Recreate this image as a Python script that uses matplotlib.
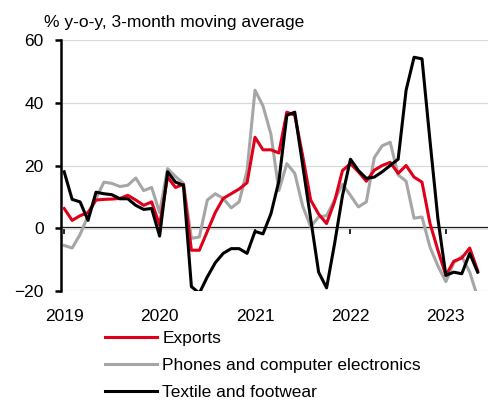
import matplotlib.pyplot as plt
import numpy as np

plt.rcParams['font.family'] = ['Liberation Sans', 'DejaVu Sans']

# monthly data, Jan 2019 .. May 2023
exports = [6.3, 2.5, 4, 5, 9, 9.2, 9.3, 9.5, 10.5, 9, 7.3, 8.4,
           1, 16.3, 13, 14, -7, -7, -1, 5, 9.5, 11, 12.5, 14.5,
           29, 25, 25, 24, 37, 36, 23, 9, 4.5, 1.5, 8.5, 18.4,
           20.6, 18, 15, 18.5, 20, 21, 17.5, 20, 16.3, 14.7, 1.6, -7,
           -15, -10.5, -9.5, -6.3, -13.5]
phones = [-5.5, -6.3, -2, 4, 9.5, 14.7, 14.3, 13.3, 13.7, 16, 12, 13,
          5, 19, 16.5, 14.3, -3.2, -2.8, 9, 11, 9.5, 6.5, 8.4, 18.4,
          44, 39, 30, 12, 20.6, 17.5, 7, 0.5, 3.6, 4, 9, 14,
          10.5, 6.8, 8.4, 22.5, 26.3, 27.4, 17, 15, 3.2, 3.6, -6, -12,
          -17, -11, -9, -14, -22]
textile = [18, 9.2, 8.4, 2.5, 11.5, 11, 10.7, 9.4, 9.4, 7.3, 6, 6.3,
           -2.5, 18, 14.7, 13.7, -18.6, -20.7, -15.5, -11, -8, -6.5, -6.5, -8,
           -1, -1.8, 4.6, 15, 36, 37, 20, 3, -14, -19, -5, 10.4,
           22, 18.4, 15.9, 16.3, 18, 20, 22, 44, 54.5, 54, 28, 3,
           -15, -14, -14.5, -8, -14]
years = ['2019', '2020', '2021', '2022', '2023']

x = np.arange(len(exports))

fig = plt.figure(figsize=(4.88, 4.0), dpi=100)
ax = fig.add_axes([61/488, 1-291/400, (488-61)/488, (291-40)/400])

ax.plot(x, phones, color='#a6a6a6', lw=2.2, zorder=2, label='Phones and computer electronics')
ax.plot(x, exports, color='#e0001b', lw=2.2, zorder=3, label='Exports')
ax.plot(x, textile, color='black', lw=2.2, zorder=4, label='Textile and footwear')

ax.set_ylim(-20, 60)
ax.set_xlim(-0.4, 53.3)
ax.set_yticks([-20, 0, 20, 40, 60])
ax.grid(axis='y', color='#d9d9d9', lw=0.9)
ax.set_axisbelow(True)

for s in ['top', 'right', 'bottom']:
    ax.spines[s].set_visible(False)
ax.spines['left'].set_linewidth(1.8)
ax.tick_params(axis='y', labelsize=12.5, length=4.5, width=1.8, pad=8)

ax.set_xticks(np.arange(0, len(exports), 12))
ax.set_xticklabels(years)
ax.tick_params(axis='x', labelsize=12.5, length=0, pad=13)

# zero line with small year ticks
sec = ax.secondary_xaxis(0, transform=ax.transData)
sec.spines['bottom'].set_linewidth(1.6)
sec.set_xticks(np.arange(0, len(exports), 12))
sec.set_xticklabels([])
sec.tick_params(axis='x', direction='out', length=4, width=1.2)

fig.text(44/488, 1-23/400, '% y-o-y, 3-month moving average', fontsize=12.5,
         ha='left', va='center')

h, l = ax.get_legend_handles_labels()
order = [1, 0, 2]
fig.legend([h[i] for i in order], [l[i] for i in order], loc='upper left',
           bbox_to_anchor=(105/488, 1-331/400), frameon=False, fontsize=12.5,
           handlelength=3.0, handletextpad=0.3, borderpad=0, borderaxespad=0,
           labelspacing=0.68)

fig.savefig('out.png', dpi=100)
